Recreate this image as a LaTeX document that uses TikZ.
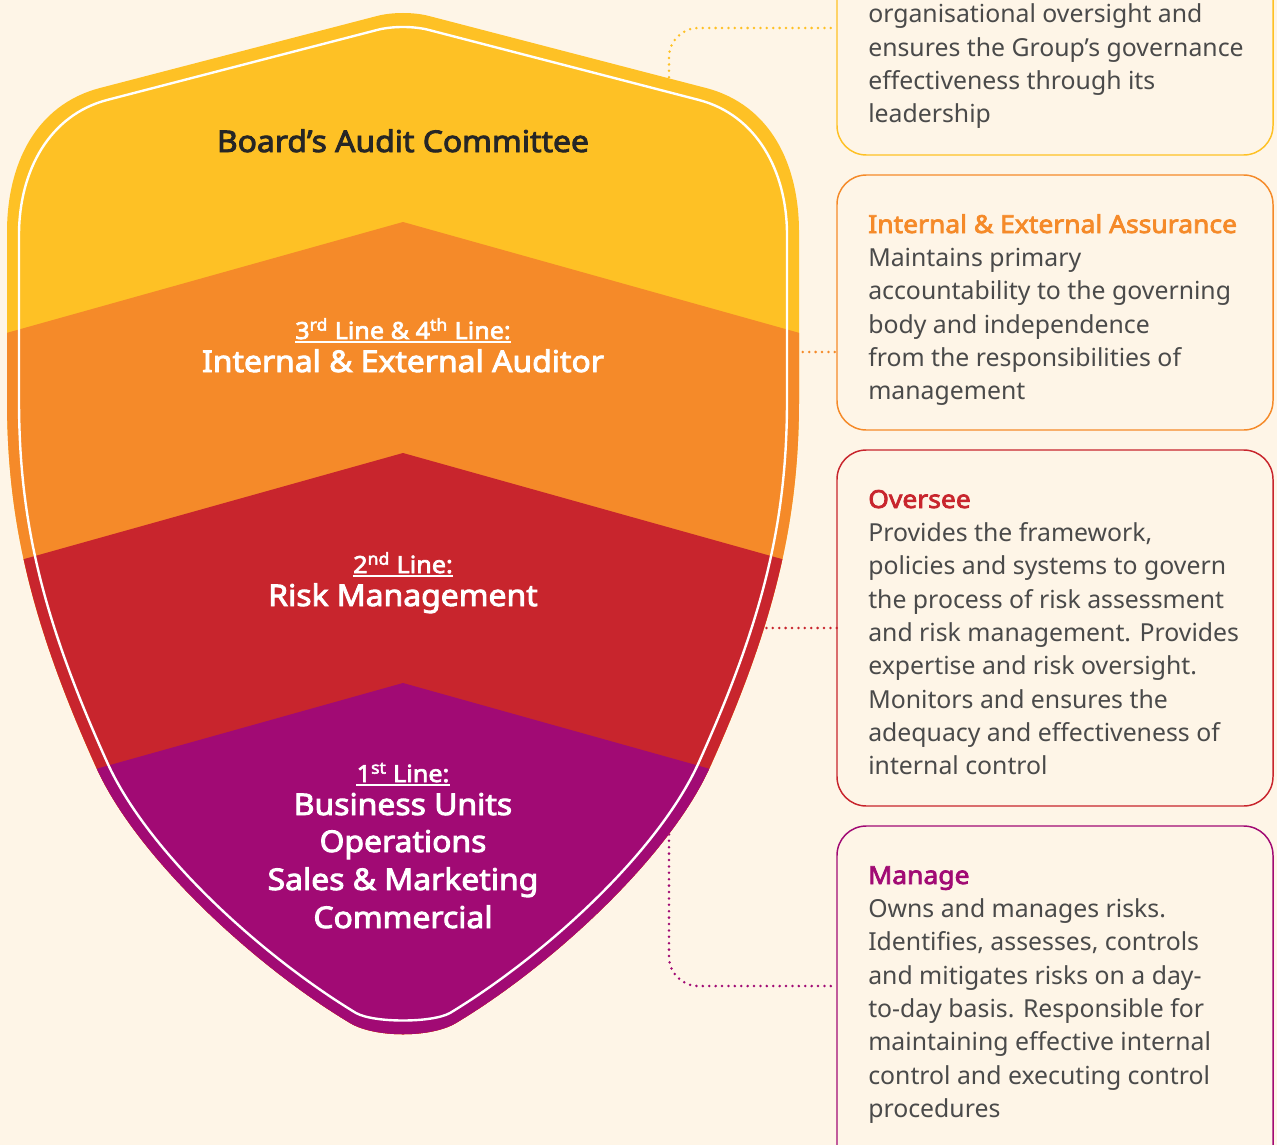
\documentclass[tikz,border=0pt]{standalone}
\usepackage{fontspec}
\setmainfont{Noto Sans}
\newfontfamily\heavyface{Noto Sans}[FakeBold=3,FakeStretch=1.067]
\definecolor{bgc}{HTML}{FEF5E7}
\definecolor{cy}{HTML}{FEC125}
\definecolor{co}{HTML}{F58A29}
\definecolor{cr}{HTML}{C8252D}
\definecolor{cp}{HTML}{A10A74}
\definecolor{dk}{HTML}{262626}
\definecolor{bodyc}{HTML}{4A4A4A}
\def\outerpath{(377,16) .. controls (392,12) and (414,12) .. (429,16) -- (706,88) .. controls (771,105) and (799,165) .. (799,232) -- (799,400) .. controls (799,520) and (775,623) .. (710,767) .. controls (669,858) and (550.3,966.5) .. (456,1023) .. controls (431,1038) and (375,1038) .. (350,1023) .. controls (255.7,966.5) and (137,858) .. (96,767) .. controls (31,623) and (7,520) .. (7,400) -- (7,232) .. controls (7,165) and (35,105) .. (100,88) -- cycle}
\def\innerpath{(377,30) .. controls (392,26) and (414,26) .. (429,30) -- (699,100) .. controls (756,115) and (787,170) .. (787,235) -- (787,400) .. controls (787,520) and (764,618) .. (699,762) .. controls (658,853) and (544,956) .. (450,1013) .. controls (432,1023) and (374,1023) .. (356,1013) .. controls (262,956) and (148,853) .. (107,762) .. controls (42,618) and (19,520) .. (19,400) -- (19,235) .. controls (19,170) and (50,115) .. (107,100) -- cycle}
\begin{document}
\begin{tikzpicture}[x=0.75pt,y=-0.75pt,
  bigt/.style={inner sep=0pt, anchor=base, text=white, font=\heavyface\fontsize{22.4}{27}\selectfont},
  smallt/.style={inner sep=0pt, anchor=base, text=white, font=\heavyface\fontsize{17.7}{20}\selectfont},
  boxtxt/.style={inner sep=0pt, anchor=base west, text=bodyc, font=\fontsize{18.6}{25}\selectfont},
  infobox/.style={line width=1.1pt, rounded corners=22pt},
  link/.style={line width=2.1pt, line cap=round, dash pattern=on 0pt off 4.8pt},
  uline/.style={white, line width=1.2pt}]
\useasboundingbox (0,0) rectangle (1277,1145);
\fill[bgc] (0,0) rectangle (1277,1145);
\clip (0,0) rectangle (1277,1145);

% info boxes
\draw[infobox, cy] (837,-40) rectangle (1273,155);
\draw[infobox, co] (837,175) rectangle (1273,430);
\draw[infobox, cr] (837,450) rectangle (1273,806);
\draw[infobox, cp] (837,826) rectangle (1273,1185);

% connectors
\coordinate (c1a) at (669,90);
\coordinate (c1b) at (837,28);
\coordinate (c2a) at (790,352);
\coordinate (c2b) at (837,352);
\coordinate (c3a) at (760,628);
\coordinate (c3b) at (837,628);
\coordinate (c4a) at (669,828);
\coordinate (c4b) at (837,986);
\draw[link, cy, rounded corners=22pt] (c1a) |- (c1b);
\draw[link, co] (c2a) -- (c2b);
\draw[link, cr] (c3a) -- (c3b);
\draw[link, cp, rounded corners=22pt] (c4a) |- (c4b);

% shield
\begin{scope}
\clip \outerpath;
\fill[cy] (-10,0) rectangle (816,1100);
\fill[co] (403,222) -- (-10,337.6) -- (-10,1100) -- (816,1100) -- (816,337.6) -- cycle;
\fill[cr] (403,453) -- (-10,568.6) -- (-10,1100) -- (816,1100) -- (816,568.6) -- cycle;
\fill[cp] (403,683) -- (-10,798.6) -- (-10,1100) -- (816,1100) -- (816,798.6) -- cycle;
\end{scope}
\draw[white, line width=1.8pt] \innerpath;

% shield texts
\node[bigt, text=dk] (t0) at (403,152) {Board’s Audit Committee};
\node[smallt] (t3a) at (403,339) {3\textsuperscript{rd} Line \& 4\textsuperscript{th} Line:};
\draw[uline] ([yshift=-2.4pt]t3a.base west) -- ([yshift=-2.4pt]t3a.base east);
\node[bigt] (t3b) at (403,372) {Internal \& External Auditor};
\node[smallt] (t2a) at (403,573) {2\textsuperscript{nd} Line:};
\draw[uline] ([yshift=-2.4pt]t2a.base west) -- ([yshift=-2.4pt]t2a.base east);
\node[bigt] (t2b) at (403,606) {Risk Management};
\node[smallt] (t1a) at (403,782) {1\textsuperscript{st} Line:};
\draw[uline] ([yshift=-2.4pt]t1a.base west) -- ([yshift=-2.4pt]t1a.base east);
\node[bigt] (t1b) at (403,815) {Business Units};
\node[bigt] (t1c) at (403,852) {Operations};
\node[bigt] (t1d) at (403,890) {Sales \& Marketing};
\node[bigt] (t1e) at (403,928) {Commercial};

% box texts
\node[boxtxt] (x1) at (868,23) {\parbox[t]{330pt}{\raggedright\leavevmode organisational oversight and\\ensures the Group’s governance\\effectiveness through its\\leadership}};
\node[boxtxt] (x2) at (868,233) {\parbox[t]{330pt}{\raggedright\leavevmode{\heavyface\color{co}Internal \& External Assurance}\\Maintains primary\\accountability to the governing\\body and independence\\from the responsibilities of\\management}};
\node[boxtxt] (x3) at (868,508) {\parbox[t]{330pt}{\raggedright\leavevmode{\heavyface\color{cr}Oversee}\\Provides the framework,\\policies and systems to govern\\the process of risk assessment\\and risk management. Provides\\expertise and risk oversight.\\Monitors and ensures the\\adequacy and effectiveness of\\internal control}};
\node[boxtxt] (x4) at (868,884) {\parbox[t]{330pt}{\raggedright\leavevmode{\heavyface\color{cp}Manage}\\Owns and manages risks.\\Identifies, assesses, controls\\and mitigates risks on a day-\\to-day basis. Responsible for\\maintaining effective internal\\control and executing control\\procedures}};
\end{tikzpicture}
\end{document}
